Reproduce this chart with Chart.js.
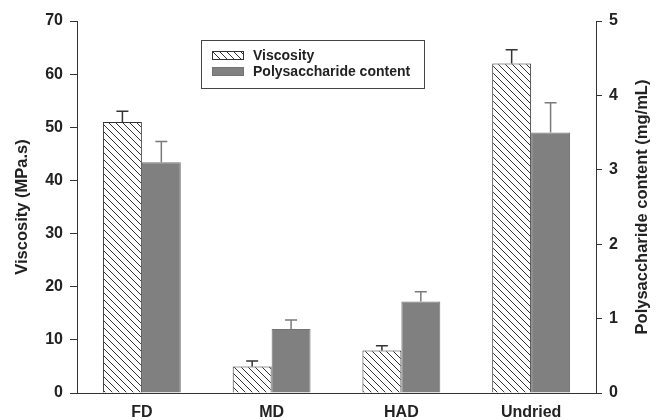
<!DOCTYPE html>
<html>
<head>
<meta charset="utf-8">
<script src="https://cdn.jsdelivr.net/npm/chart.js@4/dist/chart.umd.min.js"></script>
<style>
  html, body { margin: 0; padding: 0; background: #fff; }
  #wrap { width: 662px; height: 420px; }
</style>
</head>
<body>
<div id="wrap"><canvas id="chart"></canvas></div>
<script>
// data
const categories = ['FD', 'MD', 'HAD', 'Undried'];
const viscosity = [51, 5, 8, 62];          // MPa.s
const viscosityErr = [2, 1, 0.9, 2.6];
const polysaccharide = [3.1, 0.86, 1.23, 3.5]; // mg/mL
const polysaccharideErr = [0.28, 0.12, 0.13, 0.4];
const leftTicks = [0, 10, 20, 30, 40, 50, 60, 70];
const rightTicks = [0, 1, 2, 3, 4, 5];
const rightTitle = 'Polysaccharide content (mg/mL)';

const FONT = "'Liberation Sans', Arial, sans-serif";
const INK = '#222';
const TICK_FONT = { family: FONT, size: 16, weight: 'bold' };

// diagonal hatch ( \\\ ) for the viscosity bars
function makeHatch() {
  const s = 7;
  const c = document.createElement('canvas');
  c.width = s; c.height = s;
  const g = c.getContext('2d');
  g.fillStyle = '#fff';
  g.fillRect(0, 0, s, s);
  g.strokeStyle = '#333';
  g.lineWidth = 1;
  g.beginPath();
  g.moveTo(-1, -1); g.lineTo(s + 1, s + 1);
  g.moveTo(-1, s - 1); g.lineTo(1, s + 1);
  g.moveTo(s - 1, -1); g.lineTo(s + 1, 1);
  g.stroke();
  return g.createPattern(c, 'repeat');
}
const hatch = makeHatch();

// upper-only error bars with a cap
const errorBars = {
  id: 'errorBars',
  afterDatasetsDraw(chart) {
    const ctx = chart.ctx;
    chart.data.datasets.forEach((ds, di) => {
      const meta = chart.getDatasetMeta(di);
      const scale = chart.scales[ds.yAxisID];
      ctx.save();
      ctx.strokeStyle = ds.errColor;
      ctx.lineWidth = 1.5;
      meta.data.forEach((bar, i) => {
        const top = scale.getPixelForValue(ds.data[i] + ds.errors[i]);
        ctx.beginPath();
        ctx.moveTo(bar.x, bar.y);
        ctx.lineTo(bar.x, top);
        ctx.moveTo(bar.x - 6, top);
        ctx.lineTo(bar.x + 6, top);
        ctx.stroke();
      });
      ctx.restore();
    });
  }
};

// boxed legend inside the plot + right axis title reading bottom-to-top
const extras = {
  id: 'extras',
  afterDraw(chart) {
    const ctx = chart.ctx;
    const x = 201, y = 40, w = 223, h = 48;
    ctx.save();
    ctx.strokeStyle = '#444';
    ctx.lineWidth = 1;
    ctx.strokeRect(x + 0.5, y + 0.5, w, h);
    ctx.font = 'bold 14px ' + FONT;
    ctx.textBaseline = 'middle';
    chart.data.datasets.forEach((ds, i) => {
      const cy = y + 15 + i * 16;
      ctx.fillStyle = ds.backgroundColor;
      ctx.fillRect(x + 11, cy - 4, 32, 9);
      ctx.strokeStyle = ds.borderColor;
      ctx.strokeRect(x + 11.5, cy - 3.5, 31, 8);
      ctx.fillStyle = INK;
      ctx.fillText(ds.label, x + 52, cy + 1);
    });

    const area = chart.chartArea;
    ctx.translate(642, (area.top + area.bottom) / 2);
    ctx.rotate(-Math.PI / 2);
    ctx.textAlign = 'center';
    ctx.font = 'bold 16.5px ' + FONT;
    ctx.fillStyle = INK;
    ctx.fillText(rightTitle, 0, 0);
    ctx.restore();
  }
};

new Chart(document.getElementById('chart'), {
  type: 'bar',
  data: {
    labels: categories,
    datasets: [
      {
        label: 'Viscosity',
        data: viscosity,
        errors: viscosityErr,
        errColor: '#333',
        yAxisID: 'y',
        backgroundColor: hatch,
        borderColor: '#333',
        borderWidth: 1,
        categoryPercentage: 0.6,
        barPercentage: 1.0
      },
      {
        label: 'Polysaccharide content',
        data: polysaccharide,
        errors: polysaccharideErr,
        errColor: '#7a7a7a',
        yAxisID: 'y1',
        backgroundColor: '#808080',
        borderColor: '#737373',
        borderWidth: 1,
        categoryPercentage: 0.6,
        barPercentage: 1.0
      }
    ]
  },
  options: {
    responsive: true,
    maintainAspectRatio: false,
    animation: false,
    layout: { padding: { top: 21, left: 0, right: 0, bottom: 0 } },
    plugins: {
      legend: { display: false },
      tooltip: { enabled: false }
    },
    scales: {
      x: {
        grid: { display: false },
        border: { display: true, color: '#333', width: 1 },
        ticks: { color: INK, font: TICK_FONT, padding: 2 },
        afterFit: s => { s.height = 27; }
      },
      y: {
        position: 'left',
        min: 0, max: 70,
        afterBuildTicks: s => { s.ticks = leftTicks.map(v => ({ value: v })); },
        grid: { display: true, drawOnChartArea: false, drawTicks: true, tickLength: 7, color: '#333' },
        border: { display: true, color: '#333', width: 1 },
        ticks: { color: INK, font: TICK_FONT, padding: 7 },
        title: {
          display: true, text: 'Viscosity (MPa.s)', color: INK,
          font: { family: FONT, size: 16.5, weight: 'bold' }, padding: { top: 13, bottom: 0 }
        },
        afterFit: s => { s.width = 77; }
      },
      y1: {
        position: 'right',
        min: 0, max: 5,
        afterBuildTicks: s => { s.ticks = rightTicks.map(v => ({ value: v })); },
        grid: { display: true, drawOnChartArea: false, drawTicks: true, tickLength: 6, color: '#333' },
        border: { display: true, color: '#333', width: 1 },
        ticks: { color: INK, font: TICK_FONT, padding: 7 },
        afterFit: s => { s.width = 66; }
      }
    }
  },
  plugins: [errorBars, extras]
});
</script>
</body>
</html>
